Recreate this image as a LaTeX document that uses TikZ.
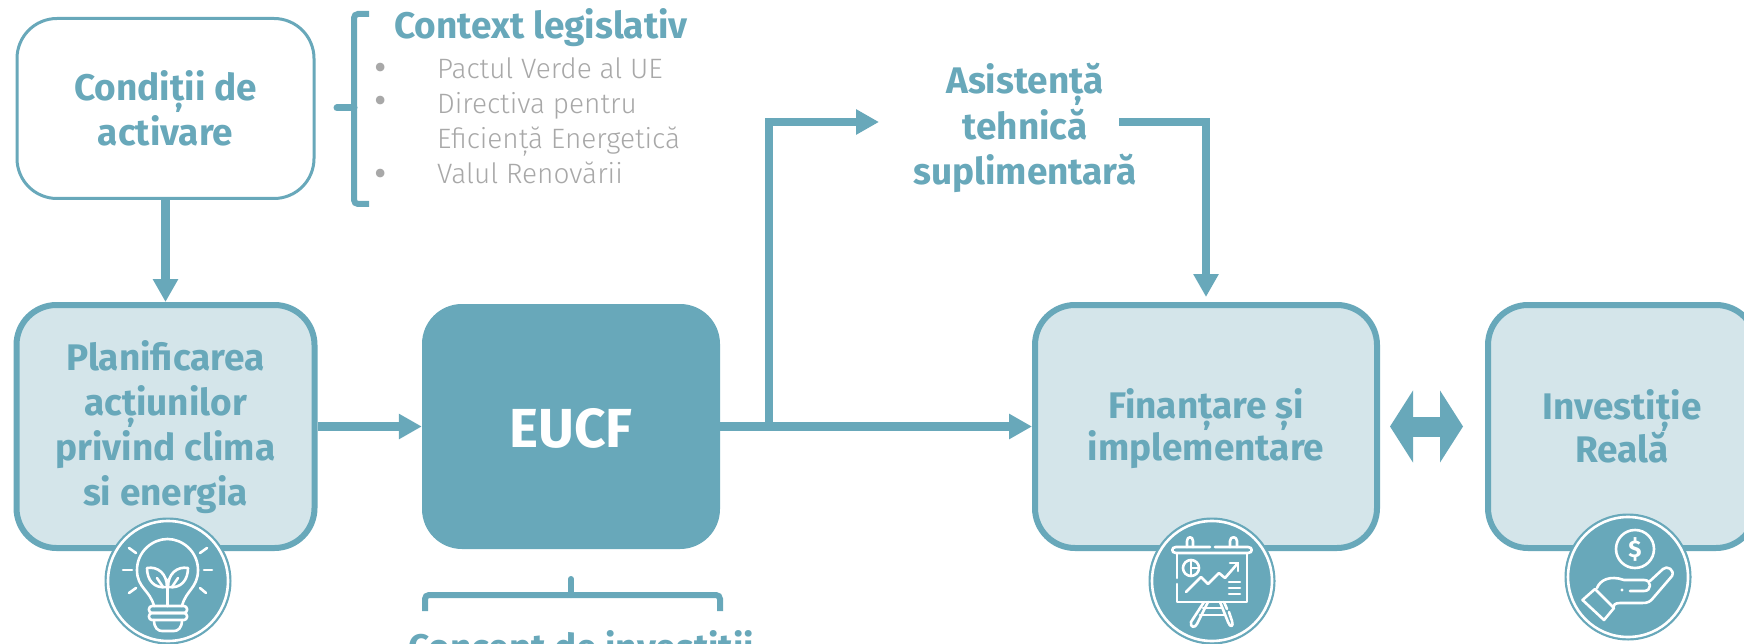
\documentclass[tikz,border=0pt]{standalone}
\usepackage{fontspec}
\setmainfont{Fira Sans}
\newfontfamily\lightfont{Fira Sans Light}
\usetikzlibrary{arrows.meta,shapes.geometric,calc}
\definecolor{teal1}{HTML}{68A8BA}
\definecolor{pale}{HTML}{D4E5EA}
\definecolor{greytx}{HTML}{A8A8A8}
\newcommand{\dropline}[1]{\rule{0pt}{#1}}
\tikzset{
  x=1pt,y=-1pt,
  boxlabel/.style={align=center,text=teal1,font=\fontsize{37}{45.2}\selectfont\bfseries},
  tightlabel/.style={font=\fontsize{37}{42.3}\selectfont\bfseries},
  softbox/.style={draw=teal1,fill=pale,line width=6pt,rounded corners=40pt,boxlabel},
  flow/.style={draw=teal1,line width=8.5pt,-{Triangle[length=23pt,width=24pt]}},
  bracketline/.style={draw=teal1,line width=6pt,rounded corners=4pt},
  listline/.style={anchor=base west,text=greytx,font=\fontsize{28}{35}\selectfont\lightfont,inner sep=0pt},
  listbullet/.style={text=greytx,font=\fontsize{38}{40}\selectfont,inner sep=0pt},
  iconbg/.style={circle,draw=teal1,fill=teal1,line width=1pt,minimum size=126pt,inner sep=0pt},
  iconline/.style={draw=white,line width=2.6pt,line cap=round,line join=round},
}
\begin{document}
\begin{tikzpicture}
\useasboundingbox (0,0) rectangle (1744,644);
\clip (0,0) rectangle (1744,644);
\fill[white] (0,0) rectangle (1744,644);

% boxes
\node[draw=teal1,fill=white,line width=3pt,rounded corners=40pt,boxlabel,minimum width=297pt,minimum height=180pt] (cond) at (165.5,108.5) {Condiții de\\activare};
\node[softbox,minimum width=298pt,minimum height=243pt] (plan) at (165.5,426.5) {\dropline{31pt}Planificarea\\acțiunilor\\privind clima\\si energia};
\node[fill=teal1,rounded corners=40pt,minimum width=298pt,minimum height=245pt,text=white,font=\fontsize{55}{60}\selectfont\bfseries] (eucf) at (571,426.5) {\dropline{42pt}EUCF};
\node[softbox,tightlabel,minimum width=342pt,minimum height=243pt] (fin) at (1206,426.5) {\dropline{34pt}Finanțare și\\implementare};
\node[softbox,tightlabel,minimum width=268pt,minimum height=243pt] (inv) at (1622,426.5) {Investiție\\Reală};

% free-standing labels
\node[boxlabel] (asist) at (1025,128) {Asistență\\tehnică\\suplimentară};
\node[boxlabel,anchor=base] (ctx) at (541,39) {Context legislativ};
\node[boxlabel,anchor=base] (concept) at (581,660) {Concept de investiții};

\node[listbullet] (b1) at (381,71.5) {•};
\node[listbullet] (b2) at (381,105) {•};
\node[listbullet] (b3) at (381,178) {•};
\node[listline] (l1) at (437,79) {Pactul Verde al UE};
\node[listline] (l2) at (437,114) {Directiva pentru};
\node[listline] (l3) at (437,149) {Eficiență Energetică};
\node[listline] (l4) at (437,184) {Valul Renovării};

% brackets
\draw[bracketline] (369,14) -- (354,14) -- (354,204) -- (369,204);
\draw[draw=teal1,line width=7pt,line cap=round] (337,108) -- (354,108);
\draw[bracketline] (425,611) -- (425,595) -- (720,595) -- (720,611);
\draw[draw=teal1,line width=6pt,line cap=round] (571,595) -- (571,579);

% connectors
\coordinate (junction) at (769,426.5);
\coordinate (asistIn) at (879,122);
\coordinate (asistOut) at (1119,122);
\draw[flow] (cond.south) -- (plan.north);
\draw[flow] (plan.east) -- (eucf.west);
\draw[flow] (eucf.east) -- (fin.west);
\draw[flow] (junction) |- (asistIn);
\draw[flow,shorten >=5pt,rounded corners=0pt] (asistOut) -| (fin.north);
\draw[draw=teal1,line width=20pt,shorten >=22pt,shorten <=10pt,{Triangle[length=23pt,width=71pt]}-{Triangle[length=23pt,width=71pt]}] (fin.east) -- (inv.west);

% icon discs
\node[iconbg] (bulbdisc) at (168,581) {};
\node[iconbg] (boarddisc) at (1212,581) {};
\node[iconbg] (handdisc) at (1628,577) {};
\draw[draw=white,line width=2.6pt] (bulbdisc) circle (60);
\draw[draw=white,line width=2.6pt] (boarddisc) circle (60);
\draw[draw=white,line width=2.6pt] (handdisc) circle (60);

% bulb icon
\draw[iconline] (154,606) .. controls (150,590) and (137,588) .. (137,570) .. controls (137,552) and (152,539) .. (167.5,539) .. controls (183,539) and (198,552) .. (198,570) .. controls (198,588) and (186,590) .. (182,606);
\draw[iconline,rounded corners=3pt] (149,606) rectangle (187,613);
\draw[iconline,rounded corners=3pt] (149,613) rectangle (187,620);
\draw[iconline] (154,620) .. controls (154,628) and (158,631) .. (162,631) -- (174,631) .. controls (178,631) and (182,628) .. (182,620);
\draw[iconline] (167.5,606) -- (167.5,580);
\draw[iconline] (147,568) .. controls (158,566) and (167,574) .. (167,587) .. controls (154,589) and (147,580) .. (147,568);
\draw[iconline] (188,568) .. controls (177,566) and (168,574) .. (168,587) .. controls (181,589) and (188,580) .. (188,568);
\draw[iconline] (157,578) -- (163,587);
\draw[iconline] (178,578) -- (172,587);
\draw[iconline] (123,570) -- (132,570);
\draw[iconline] (204,570) -- (212,570);
\draw[iconline] (129,548) -- (136,553);
\draw[iconline] (207,548) -- (200,553);
\draw[iconline] (129,593) -- (136,588);
\draw[iconline] (206,593) -- (200,588);

% presentation board icon
\draw[iconline] (1210,547) -- (1176,547) .. controls (1171,547) and (1171,553) .. (1176,553) -- (1248,553) .. controls (1253,553) and (1253,547) .. (1248,547) -- (1215,547);
\draw[iconline] (1187,547) -- (1187,541) .. controls (1187,536) and (1193,536) .. (1193,541) -- (1193,547);
\draw[iconline] (1230,547) -- (1230,541) .. controls (1230,536) and (1237,536) .. (1237,541) -- (1237,547);
\draw[iconline] (1177,578) -- (1177,554);
\draw[iconline] (1177,584) -- (1177,602) -- (1247,602) -- (1247,554);
\draw[iconline] (1191,568) circle (8);
\draw[iconline,line width=2pt] (1191,560) -- (1191,576) (1191,568) -- (1199,568);
\draw[iconline] (1186,592) -- (1201,577) -- (1208,584) -- (1219,573) -- (1225,578) -- (1238,563);
\draw[iconline] (1230,563) -- (1238,563) -- (1238,571);
\draw[iconline] (1229,582) -- (1240,582) (1229,588) -- (1240,588) (1229,594) -- (1240,594);
\draw[iconline] (1204,602) -- (1191,622) .. controls (1190,628) and (1195,628) .. (1197,624) -- (1208,602);
\draw[iconline] (1220,602) -- (1228,622) .. controls (1230,628) and (1234,627) .. (1232,621) -- (1229,612);
\draw[iconline] (1224,602) -- (1227,609);
\draw[iconline] (1203,608) -- (1222,608) (1200,615) -- (1225,615);

% hand icon
\draw[iconline] (1635,549) circle (19);
\node[text=white,font=\fontsize{24}{24}\selectfont\bfseries,inner sep=0pt] (dollar) at (1635,549) {\$};
\draw[iconline] (1582.5,600) -- (1595,589) -- (1614,608) -- (1604,620) -- cycle;
\draw[iconline] (1597,588) .. controls (1600,580) and (1610,575) .. (1624,580) -- (1644,580) .. controls (1652,580) and (1652,591) .. (1644,591) -- (1630,591);
\fill[white] (1622,590) circle (1.7);
\draw[iconline] (1650,581) -- (1663,569) .. controls (1667,565) and (1675,570) .. (1672,576) -- (1654,597) .. controls (1650,602) and (1648,603) .. (1642,603) -- (1620,603) .. controls (1615,603) and (1613,605) .. (1613,608);
\end{tikzpicture}
\end{document}
